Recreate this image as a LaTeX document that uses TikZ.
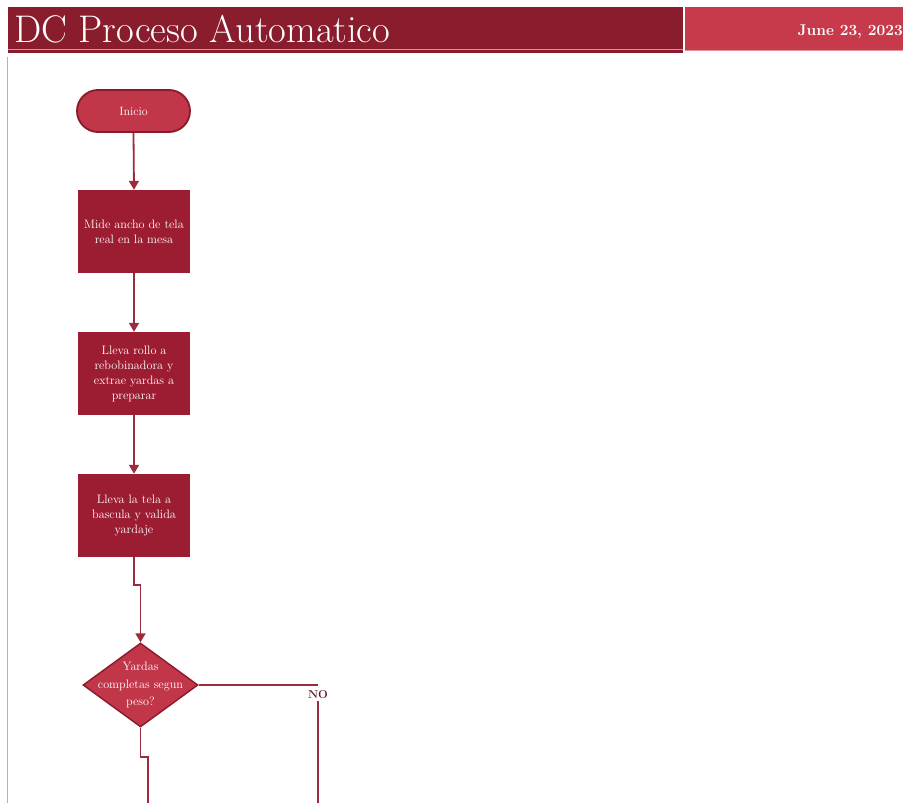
\documentclass[tikz,border=0pt]{standalone}
\usepackage{fontspec}
\usetikzlibrary{shapes.geometric,arrows.meta}
\definecolor{hdrdark}{HTML}{8A1D2D}
\definecolor{hdrlight}{HTML}{C63A4C}
\definecolor{boxred}{HTML}{9C1C31}
\definecolor{lightred}{HTML}{C2364A}
\definecolor{edgered}{HTML}{8A1A2B}
\definecolor{linered}{HTML}{9E2B3D}
\definecolor{nocol}{HTML}{5A1C24}
\tikzset{
  procbox/.style={rectangle, fill=boxred, minimum width=112pt, minimum height=83pt,
    align=center, text=white, font=\fontsize{12.2}{15}\selectfont, inner sep=0pt},
  termbox/.style={rectangle, rounded corners=21pt, fill=lightred, draw=edgered, line width=1.8pt,
    minimum width=113pt, minimum height=42pt, text=white, font=\fontsize{12}{14}\selectfont},
  decbox/.style={diamond, fill=lightred, draw=edgered, line width=1.4pt, minimum width=115pt,
    minimum height=84pt, inner sep=0pt},
  dectext/.style={align=center, text=white, inner sep=0pt, font=\fontsize{12.2}{17.5}\selectfont},
  flow/.style={draw=linered, line width=1.8pt},
  flowarrow/.style={flow, -{Triangle[width=10pt,length=9pt]}},
}
\begin{document}
\begin{tikzpicture}[x=1pt,y=-1pt]
\useasboundingbox (0,0) rectangle (903,803);
% header
\fill[hdrdark] (8,7) rectangle (683,53);
\fill[hdrlight] (685,7) rectangle (903,51);
\draw[hdrdark!45!white, line width=1pt] (8,49.5) -- (683,49.5);
\draw[hdrlight!55!white, line width=0.8pt] (685,50.6) -- (903,50.6);
\node[anchor=base west, text=white, font=\fontsize{38.5}{40}\selectfont, inner sep=0pt] (title) at (14,42) {DC Proceso Automatico};
\node[anchor=base east, text=white, font=\bfseries\fontsize{15.5}{17}\selectfont, inner sep=0pt] (date) at (903,35) {June 23, 2023};
% left frame line
\draw[black!30, line width=1pt] (7,57) -- (7,803);
% nodes
\node[termbox] (inicio) at (133.5,111) {Inicio};
\node[procbox] (b1) at (134,231.5) {Mide ancho de tela\\real en la mesa};
\node[procbox] (b2) at (134,373.5) {Lleva rollo a\\rebobinadora y\\extrae yardas a\\preparar};
\node[procbox] (b3) at (134,515.5) {Lleva la tela a\\bascula y valida\\yardaje};
\node[decbox] (d1) at (140.5,685) {};
\node[dectext] (d1t) at (d1.center) {Yardas\\completas segun\\peso?};
\node[text=nocol, font=\bfseries\fontsize{11.5}{12}\selectfont, inner sep=1.5pt] (no) at (318,695) {NO};
\coordinate (j1) at (134,585);
\coordinate (j2) at (140.5,585);
\coordinate (n1) at (318,685);
\coordinate (n2) at (318,803);
\coordinate (k1) at (140.5,757);
\coordinate (k2) at (148,757);
\coordinate (k3) at (148,803);
% connectors
\draw[flowarrow] (inicio.south) -- (b1.north);
\draw[flowarrow] (b1.south) -- (b2.north);
\draw[flowarrow] (b2.south) -- (b3.north);
\draw[flowarrow] (b3.south) -- (j1) -- (j2) -- (d1.north);
\draw[flow] (d1.east) -- (n1);
\draw[flow] (no.south) -- (n2);
\draw[flow] (d1.south) -- (k1) -- (k2) -- (k3);
\end{tikzpicture}
\end{document}
